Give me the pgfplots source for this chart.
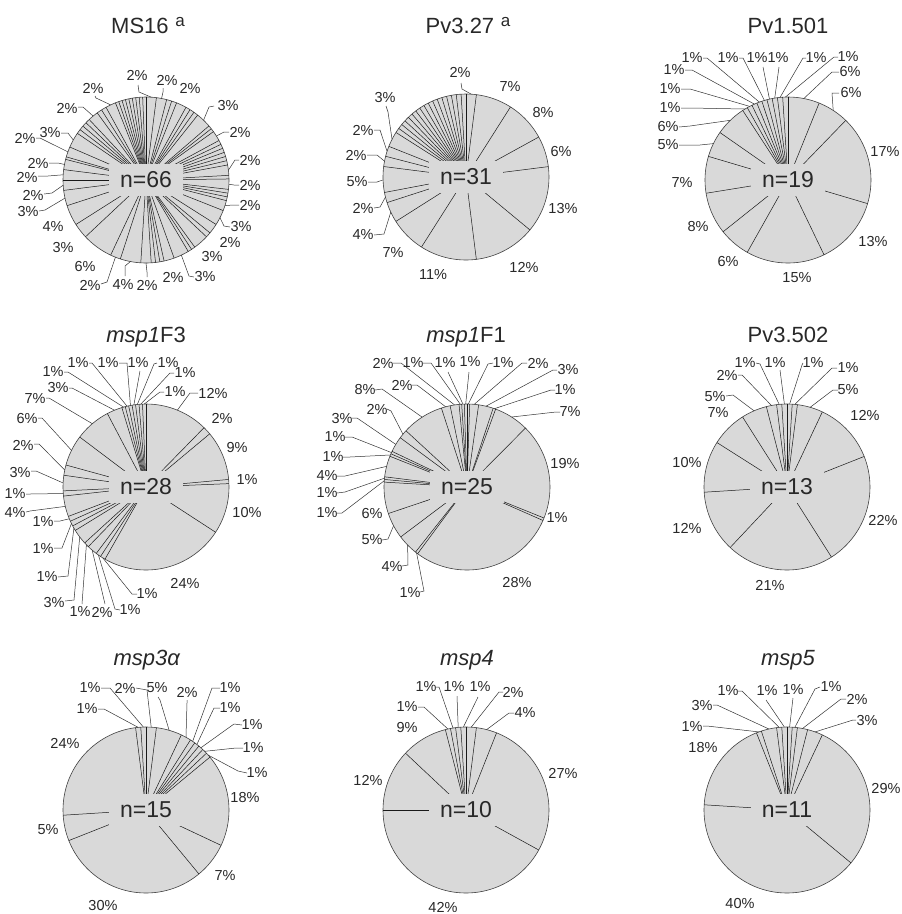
\documentclass[border=0pt]{standalone}
\usepackage{pgfplots}
\pgfplotsset{compat=1.18}
\usepackage{pgfplotstable}
\usepackage{fontspec}
\setmainfont{Liberation Sans}
\usetikzlibrary{calc}
\definecolor{piefill}{RGB}{217,217,217}
\definecolor{txtc}{RGB}{40,40,40}

% slice values, clockwise from 12 o'clock
\pgfplotstableread[row sep=\\]{p\\ 2\\ 2\\ 1\\ 1\\ 2\\ 0.9\\ 0.9\\ 0.9\\ 3\\ 0.7\\ 0.7\\ 2\\ 0.83\\ 0.83\\ 0.84\\ 0.83\\ 0.83\\ 0.84\\ 2\\ 0.7\\ 2\\ 0.73\\ 0.73\\ 0.74\\ 2\\ 3\\ 2\\ 1\\ 3\\ 0.75\\ 0.75\\ 3\\ 2\\ 0.83\\ 0.83\\ 0.84\\ 2\\ 4\\ 2\\ 6\\ 3\\ 4\\ 3\\ 2\\ 2\\ 2\\ 0.5\\ 2\\ 3\\ 0.875\\ 0.875\\ 0.875\\ 0.875\\ 2\\ 1\\ 1\\ 2\\ 0.67\\ 0.67\\ 0.67\\ 0.67\\ 0.67\\ 0.67\\ 0.67\\ 0.67\\ 0.64\\}\tabA
\pgfplotstableread[row sep=\\]{p\\ 2\\ 7\\ 8\\ 6\\ 13\\ 12\\ 11\\ 7\\ 4\\ 2\\ 5\\ 2\\ 2\\ 3\\ 0.94\\ 0.94\\ 0.94\\ 0.94\\ 0.94\\ 0.94\\ 0.94\\ 0.94\\ 0.94\\ 0.94\\ 0.94\\ 0.94\\ 0.94\\ 0.94\\ 0.94\\ 0.94\\ 0.94\\}\tabB
\pgfplotstableread[row sep=\\]{p\\ 6\\ 6\\ 17\\ 13\\ 15\\ 6\\ 8\\ 7\\ 5\\ 6\\ 1\\ 1\\ 1\\ 1\\ 1\\ 1\\ 1\\ 1\\ 1\\}\tabC
\pgfplotstableread[row sep=\\]{p\\ 12.3\\ 1.6\\ 9.6\\ 0.8\\ 9.8\\ 24\\ 1\\ 1\\ 2\\ 1\\ 3\\ 1\\ 1\\ 1\\ 4\\ 1\\ 3\\ 2\\ 6\\ 7\\ 3\\ 0.67\\ 0.67\\ 0.67\\ 0.67\\ 0.67\\ 0.67\\ 0.67\\}\tabD
\pgfplotstableread[row sep=\\]{p\\ 0.5\\ 1.7\\ 2.8\\ 0.5\\ 6.7\\ 18.3\\ 0.5\\ 28\\ 0.5\\ 4\\ 5\\ 6\\ 0.5\\ 0.5\\ 4\\ 0.5\\ 0.5\\ 3\\ 1.7\\ 8\\ 1.7\\ 1.7\\ 0.5\\ 0.5\\ 0.5\\}\tabE
\pgfplotstableread[row sep=\\]{p\\ 1\\ 1\\ 5\\ 12\\ 22\\ 21\\ 12\\ 10\\ 7\\ 5\\ 2\\ 1\\ 1\\}\tabF
\pgfplotstableread[row sep=\\]{p\\ 2\\ 5\\ 2\\ 1\\ 1\\ 1\\ 1\\ 1\\ 18\\ 7\\ 30\\ 5\\ 24\\ 1\\ 1\\}\tabG
\pgfplotstableread[row sep=\\]{p\\ 2\\ 4\\ 27\\ 42\\ 12\\ 9\\ 1\\ 1\\ 1\\ 1\\}\tabH
\pgfplotstableread[row sep=\\]{p\\ 1\\ 1\\ 2\\ 3\\ 29\\ 40\\ 18\\ 1\\ 3\\ 1\\ 1\\}\tabI

\newcommand\preppie[1]{%
  \pgfplotstablecreatecol[create col/expr accum={\pgfmathaccuma+\thisrow{p}}{0}]{cum}{#1}%
  \pgfplotstablegetrowsof{#1}%
  \pgfmathtruncatemacro\lastrow{\pgfplotsretval-1}%
  \pgfplotstablegetelem{\lastrow}{cum}\of{#1}%
  \edef\pietot{\pgfplotsretval}%
  \pgfplotstablecreatecol[create col/expr={sin(\thisrow{cum}/\pietot*360)}]{u}{#1}%
  \pgfplotstablecreatecol[create col/expr={cos(\thisrow{cum}/\pietot*360)}]{v}{#1}%
}

\pgfplotsset{pieaxis/.style={width=166pt,height=166pt,scale only axis,
  xmin=-1,xmax=1,ymin=-1,ymax=1,hide axis,clip=false,anchor=origin}}
\tikzset{
  lab/.style={font=\fontsize{14.5}{14.5}\selectfont,text=txtc,inner sep=0pt},
  lead/.style={draw=black!80,line width=0.5pt},
  nbox/.style={fill=piefill,inner xsep=11pt,inner ysep=8pt,text=txtc,font=\fontsize{23}{23}\selectfont},
  ttl/.style={anchor=base,text=txtc,inner sep=0pt,font=\fontsize{22}{22}\selectfont}
}
\newcommand\lb[3]{\node[lab] at (#1,#2) {#3\%};}
\newcommand\ld[3]{\draw[lead] ($(#1)+({83*sin(#2)},{-83*cos(#2)})$) -- #3;}
\newcommand\supa{\hspace{0.3em}\raisebox{7pt}{\fontsize{17}{17}\selectfont a}}
\newcommand\pie[3]{%
\begin{axis}[pieaxis,at={(#1)}]
\draw[draw=black!75,fill=piefill,line width=0.6pt] (axis cs:0,0) circle[radius=83pt];
\addplot[no markers,draw=black!90,line width=0.5pt,quiver={u=\thisrow{u},v=\thisrow{v}}] table[x expr=0,y expr=0]{#2};
\node[nbox] at (axis cs:0,0) {n=#3};
\end{axis}}

\begin{document}
\preppie{\tabA}\preppie{\tabB}\preppie{\tabC}\preppie{\tabD}\preppie{\tabE}%
\preppie{\tabF}\preppie{\tabG}\preppie{\tabH}\preppie{\tabI}%
\begin{tikzpicture}
\path[use as bounding box] (0,-914pt) rectangle (902pt,0pt);
\begin{scope}[x=1pt,y=-1pt]
\coordinate (C1) at (146,180); \coordinate (C2) at (466,177); \coordinate (C3) at (788,180);
\coordinate (C4) at (146,487); \coordinate (C5) at (467,487); \coordinate (C6) at (787,487);
\coordinate (C7) at (146,810); \coordinate (C8) at (466,810); \coordinate (C9) at (787,810);
\end{scope}

\pie{C1}{\tabA}{66}
\pie{C2}{\tabB}{31}
\pie{C3}{\tabC}{19}
\pie{C4}{\tabD}{28}
\pie{C5}{\tabE}{25}
\pie{C6}{\tabF}{13}
\pie{C7}{\tabG}{15}
\pie{C8}{\tabH}{10}
\pie{C9}{\tabI}{11}

\begin{scope}[x=1pt,y=-1pt]
% titles
\node[ttl] at (148,33) {MS16\supa};
\node[ttl] at (468,33) {Pv3.27\supa};
\node[ttl] at (788,33) {Pv1.501};
\node[ttl] at (146,342) {\textit{msp1}F3};
\node[ttl] at (466,342) {\textit{msp1}F1};
\node[ttl] at (788,342) {Pv3.502};
\node[ttl] at (147,665) {\textit{msp3α}};
\node[ttl] at (467,665) {\textit{msp4}};
\node[ttl] at (788,665) {\textit{msp5}};

% MS16
\lb{137}{75}{2} \ld{C1}{3.6}{(139,92) -- (138,85)}
\lb{167}{80}{2} \ld{C1}{10.8}{(163,92) -- (163,88)}
\lb{190}{88}{2}
\lb{228}{106}{3} \ld{C1}{43.9}{(209,107) -- (214,106)}
\lb{240}{132}{2} \ld{C1}{58}{(224,132) -- (229,132)}
\lb{250}{160}{2} \ld{C1}{83.2}{(235,160) -- (239,160)}
\lb{250}{185}{2} \ld{C1}{92.9}{(234,185) -- (239,185)}
\lb{250}{205}{2} \ld{C1}{108}{(233,205) -- (239,205)}
\lb{241}{227}{3} \ld{C1}{117}{(224,226) -- (230,227)}
\lb{230}{242}{2}
\lb{212}{257}{3}
\lb{205}{277}{3} \ld{C1}{154.8}{(189,276) -- (194,277)}
\lb{173}{277}{2}
\lb{147}{285}{2} \ld{C1}{180}{(147,272) -- (147,277)}
\lb{123}{285}{4} \ld{C1}{190.8}{(125,266) -- (125,276)}
\lb{90}{285}{2} \ld{C1}{201.6}{(107,282) -- (101,284)}
\lb{85}{267}{6}
\lb{63}{248}{3}
\lb{53}{227}{4}
\lb{28}{212}{3} \ld{C1}{257.4}{(45,210) -- (39,211)}
\lb{33}{195}{2} \ld{C1}{266.4}{(52,193) -- (44,194)}
\lb{27}{177}{2} \ld{C1}{273.6}{(48,176) -- (38,176)}
\lb{38}{163}{2} \ld{C1}{280.8}{(58,163) -- (49,163)}
\lb{25}{138}{2} \ld{C1}{289.8}{(40,138) -- (36,138)}
\lb{50}{133}{3} \ld{C1}{298.8}{(68,133) -- (61,133)}
\lb{67}{108}{2} \ld{C1}{320.4}{(83,107) -- (78,107)}
\lb{93}{88}{2} \ld{C1}{334.8}{(96,98) -- (95,96)}

% Pv3.27
\lb{460}{72}{2} \ld{C2}{3.6}{(462,89) -- (461,83)}
\lb{510}{87}{7}
\lb{543}{113}{8}
\lb{561}{152}{6}
\lb{563}{209}{13}
\lb{524}{267}{12}
\lb{433}{275}{11}
\lb{393}{253}{7}
\lb{363}{235}{4} \ld{C2}{245}{(384,234) -- (374,235)}
\lb{363}{208}{2} \ld{C2}{256}{(380,207) -- (374,208)}
\lb{357}{182}{5} \ld{C2}{268}{(377,182) -- (368,182)}
\lb{356}{155}{2} \ld{C2}{281}{(377,155) -- (367,155)}
\lb{363}{130}{2} \ld{C2}{288}{(380,130) -- (374,130)}
\lb{385}{98}{3} \ld{C2}{297}{(388,112) -- (386,106)}

% Pv1.501
\lb{850}{72}{6} \ld{C3}{11}{(832,72) -- (839,72)}
\lb{851}{93}{6} \ld{C3}{33}{(832,93) -- (839,93)}
\lb{885}{152}{17}
\lb{873}{242}{13}
\lb{797}{278}{15}
\lb{728}{262}{6}
\lb{698}{227}{8}
\lb{682}{183}{7}
\lb{668}{145}{5} \ld{C3}{296}{(700,145) -- (679,145)}
\lb{668}{127}{6} \ld{C3}{316}{(690,126) -- (679,127)}
\lb{670}{108}{1} \ld{C3}{328.8}{(690,108) -- (681,108)}
\lb{670}{89}{1} \ld{C3}{332.5}{(690,89) -- (681,89)}
\lb{674}{70}{1} \ld{C3}{336.1}{(692,70) -- (685,70)}
\lb{692}{58}{1} \ld{C3}{339.8}{(707,58) -- (703,58)}
\lb{728}{58}{1} \ld{C3}{343.5}{(743,58) -- (739,58)}
\lb{757}{58}{1} \ld{C3}{347.1}{(763,67)}
\lb{778}{58}{1} \ld{C3}{350.8}{(779,67)}
\lb{816}{58}{1} \ld{C3}{354.5}{(803,58) -- (806,58)}
\lb{848}{57}{1} \ld{C3}{358.2}{(834,57) -- (838,57)}

% msp1F3
\lb{213}{393}{12} \ld{C4}{22.2}{(190,393) -- (198,393)}
\lb{222}{418}{2}
\lb{237}{447}{9}
\lb{247}{480}{1}
\lb{247}{512}{10}
\lb{185}{583}{24}
\lb{147}{594}{1} \ld{C4}{211.4}{(132,594) -- (137,594)}
\lb{130}{610}{1} \ld{C4}{215}{(115,609) -- (120,610)}
\lb{102}{612}{2} \ld{C4}{220.4}{(105,604)}
\lb{80}{612}{1} \ld{C4}{225.9}{(82,604)}
\lb{54}{602}{3} \ld{C4}{233}{(74,600) -- (65,601)}
\lb{47}{577}{1} \ld{C4}{240.3}{(68,576) -- (58,577)}
\lb{43}{549}{1} \ld{C4}{243.9}{(62,548) -- (54,548)}
\lb{43}{522}{1} \ld{C4}{247.5}{(60,521) -- (54,521)}
\lb{15}{513}{4} \ld{C4}{256.5}{(30,511) -- (26,512)}
\lb{15}{494}{1} \ld{C4}{265.5}{(30,494) -- (26,494)}
\lb{20}{472}{3} \ld{C4}{272.8}{(36,471) -- (31,471)}
\lb{23}{445}{2} \ld{C4}{281.8}{(39,444) -- (34,444)}
\lb{27}{419}{6} \ld{C4}{296.2}{(42,418) -- (38,418)}
\lb{35}{399}{7} \ld{C4}{319.7}{(49,398) -- (46,398)}
\lb{58}{388}{3} \ld{C4}{337.7}{(72,388) -- (69,388)}
\lb{53}{372}{1} \ld{C4}{344.3}{(68,372) -- (64,372)}
\lb{78}{363}{1} \ld{C4}{346.8}{(92,363) -- (89,363)}
\lb{108}{363}{1} \ld{C4}{349.2}{(127,363) -- (119,363)}
\lb{138}{363}{1} \ld{C4}{351.6}{(140,371)}
\lb{168}{363}{1} \ld{C4}{354}{(154,364) -- (157,363)}
\lb{185}{373}{1} \ld{C4}{356.4}{(170,373) -- (174,373)}
\lb{175}{392}{1} \ld{C4}{358.8}{(160,392) -- (164,392)}

% msp1F1
\lb{503}{363}{1} \ld{C5}{0.9}{(488,364) -- (493,363)}
\lb{538}{363}{2} \ld{C5}{5}{(522,363) -- (527,363)}
\lb{568}{370}{3} \ld{C5}{13.2}{(553,370) -- (557,370)}
\lb{565}{390}{1} \ld{C5}{19.3}{(551,390) -- (555,390)}
\lb{570}{412}{7} \ld{C5}{32.5}{(556,412) -- (560,412)}
\lb{565}{463}{19}
\lb{557}{518}{1}
\lb{517}{582}{28}
\lb{410}{593}{1} \ld{C5}{217.4}{(424,591) -- (420,592)}
\lb{392}{567}{4} \ld{C5}{225.7}{(408,565) -- (402,566)}
\lb{372}{540}{5} \ld{C5}{242.2}{(388,539) -- (382,540)}
\lb{372}{513}{6}
\lb{327}{513}{1} \ld{C5}{274.3}{(342,513) -- (337,513)}
\lb{327}{493}{1} \ld{C5}{276.1}{(345,492) -- (337,493)}
\lb{327}{476}{4} \ld{C5}{284.4}{(345,476) -- (337,476)}
\lb{333}{457}{1} \ld{C5}{292.7}{(350,457) -- (343,457)}
\lb{335}{437}{1} \ld{C5}{294.5}{(352,437) -- (345,437)}
\lb{342}{418}{3} \ld{C5}{300.9}{(357,418) -- (352,418)}
\lb{377}{409}{2} \ld{C5}{309.5}{(391,411) -- (387,409)}
\lb{365}{390}{8} \ld{C5}{327.3}{(382,389) -- (375,390)}
\lb{402}{385}{2} \ld{C5}{345.1}{(417,385) -- (412,385)}
\lb{383}{363}{2} \ld{C5}{351.4}{(401,363) -- (393,363)}
\lb{413}{363}{1} \ld{C5}{355.4}{(431,363) -- (423,363)}
\lb{445}{363}{1} \ld{C5}{357.2}{(448,372)}
\lb{470}{362}{1} \ld{C5}{359.1}{(469,372)}

% Pv3.502
\lb{848}{368}{1} \ld{C6}{5.4}{(832,368) -- (837,368)}
\lb{813}{363}{1} \ld{C6}{1.8}{(802,365) -- (803,363)}
\lb{775}{363}{1} \ld{C6}{358.2}{(780,370)}
\lb{745}{363}{1} \ld{C6}{354.6}{(760,364) -- (756,363)}
\lb{727}{375}{2} \ld{C6}{349.2}{(742,375) -- (738,375)}
\lb{715}{397}{5} \ld{C6}{336.6}{(733,395) -- (726,396)}
\lb{718}{413}{7}
\lb{687}{462}{10}
\lb{687}{528}{12}
\lb{770}{585}{21}
\lb{883}{520}{22}
\lb{865}{415}{12}
\lb{848}{390}{5} \ld{C6}{16.2}{(833,390) -- (838,390)}

% msp3alpha
\lb{87}{709}{1} \ld{C7}{354.6}{(104,709) -- (98,709)}
\lb{90}{688}{1} \ld{C7}{358.2}{(110,688) -- (101,688)}
\lb{125}{688}{2} \ld{C7}{3.6}{(147,690) -- (136,688)}
\lb{157}{688}{5} \ld{C7}{16.2}{(160,700) -- (158,697)}
\lb{187}{692}{2} \ld{C7}{28.8}{(187,703) -- (187,700)}
\lb{230}{688}{1} \ld{C7}{34.2}{(212,688) -- (220,688)}
\lb{230}{708}{1} \ld{C7}{37.8}{(214,708) -- (220,708)}
\lb{252}{725}{1} \ld{C7}{41.4}{(234,724) -- (242,725)}
\lb{253}{748}{1} \ld{C7}{45}{(236,748) -- (243,748)}
\lb{257}{773}{1} \ld{C7}{48.6}{(238,771) -- (247,773)}
\lb{245}{797}{18}
\lb{225}{875}{7}
\lb{103}{905}{30}
\lb{48}{830}{5}
\lb{65}{743}{24}

% msp4
\lb{407}{707}{1} \ld{C8}{347.4}{(424,707) -- (418,707)}
\lb{426}{687}{1} \ld{C8}{351}{(439,687) -- (436,687)}
\lb{454}{687}{1} \ld{C8}{354.6}{(457,696)}
\lb{480}{687}{1} \ld{C8}{358.2}{(478,697)}
\lb{513}{692}{2} \ld{C8}{3.6}{(499,692) -- (503,692)}
\lb{525}{713}{4} \ld{C8}{14.4}{(509,713) -- (514,713)}
\lb{563}{773}{27}
\lb{443}{907}{42}
\lb{368}{780}{12}
\lb{407}{727}{9}

% msp5
\lb{692}{727}{1} \ld{C9}{340.2}{(707,726) -- (703,726)}
\lb{702}{705}{3} \ld{C9}{347.4}{(717,705) -- (713,705)}
\lb{728}{691}{1} \ld{C9}{354.6}{(742,691) -- (738,691)}
\lb{767}{691}{1} \ld{C9}{358.2}{(766,700)}
\lb{793}{690}{1} \ld{C9}{1.8}{(793,698)}
\lb{831}{687}{1} \ld{C9}{5.4}{(815,689) -- (820,687)}
\lb{857}{699}{2} \ld{C9}{10.8}{(841,699) -- (846,699)}
\lb{867}{720}{3} \ld{C9}{19.8}{(853,720) -- (856,720)}
\lb{886}{788}{29}
\lb{740}{903}{40}
\lb{703}{747}{18}
\end{scope}
\end{tikzpicture}
\end{document}
